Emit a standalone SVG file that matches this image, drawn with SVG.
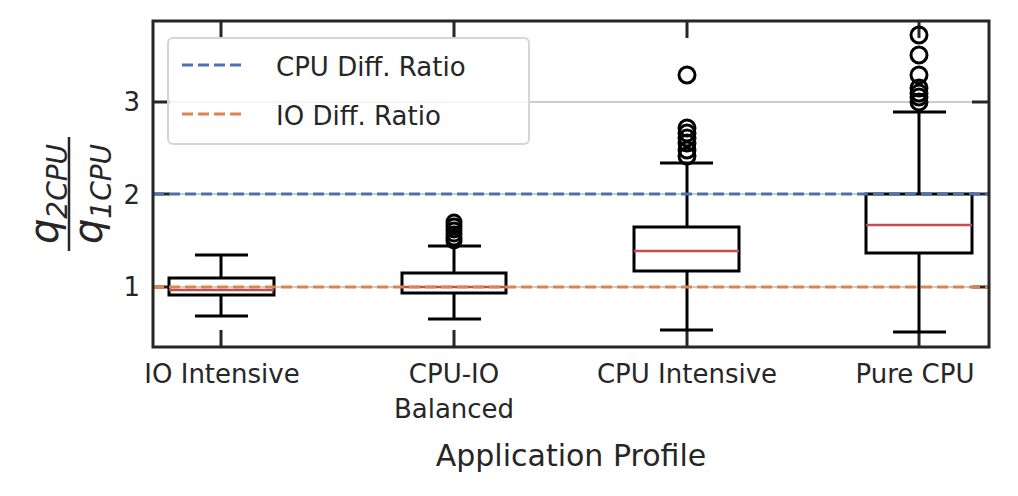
<svg xmlns="http://www.w3.org/2000/svg" width="1018" height="496" viewBox="0 0 1018 496">
<style>
text{font-family:"DejaVu Sans",sans-serif;fill:#262626}
.g{stroke:#cccccc;stroke-width:2}
.b{fill:none;stroke:#000;stroke-width:3}
.m{stroke:#c44e52;stroke-width:2.5}
.o{fill:none;stroke:#000;stroke-width:3}
.t{stroke:#262626;stroke-width:3}
</style>
<rect width="1018" height="496" fill="#fff"/>
<g id="grid">
<line class="g" x1="153" y1="102" x2="989" y2="102"/>
<line class="g" x1="153" y1="194" x2="989" y2="194"/>
<line class="g" x1="153" y1="287" x2="989" y2="287"/>
</g>
<g id="ticks">
<path class="t" d="M221 21V38M454 21V38M687 21V38M919 21V38M221 330V347M454 330V347M687 330V347M919 330V347M153 102H170M153 194H170M153 287H170M972 102H989M972 194H989M972 287H989"/>
</g>
<g id="box1">
<path class="b" d="M221 255V278M221 295V316M195 255H248M195 316H248"/>
<rect class="b" x="169" y="278" width="105" height="17"/>
<line class="m" x1="169" y1="290" x2="274" y2="290"/>
</g>
<g id="box2">
<path class="b" d="M454 246V273M454 293V319M428 246H481M428 319H481"/>
<rect class="b" x="402" y="273" width="104" height="20"/>
<line class="m" x1="402" y1="287" x2="506" y2="287"/>
<g class="o"><circle cx="454" cy="222" r="7"/><circle cx="454" cy="226" r="7"/><circle cx="454" cy="230" r="7"/><circle cx="454" cy="234" r="7"/><circle cx="454" cy="238" r="7"/><circle cx="454" cy="241" r="7"/></g>
</g>
<g id="box3">
<path class="b" d="M687 163V227M687 271V330M660 163H713M660 330H713"/>
<rect class="b" x="634" y="227" width="105" height="44"/>
<line class="m" x1="634" y1="251" x2="739" y2="251"/>
<g class="o"><circle cx="687" cy="75" r="8"/><circle cx="687" cy="128" r="8"/><circle cx="687" cy="133" r="8"/><circle cx="687" cy="138" r="8"/><circle cx="687" cy="143" r="8"/><circle cx="687" cy="150" r="8"/><circle cx="687" cy="156" r="8"/></g>
</g>
<g id="box4">
<path class="b" d="M919 112V194M919 253V332M893 112H946M893 332H946"/>
<rect class="b" x="866" y="194" width="106" height="59"/>
<line class="m" x1="866" y1="225" x2="972" y2="225"/>
<g class="o"><circle cx="919" cy="35" r="8"/><circle cx="919" cy="55" r="8"/><circle cx="919" cy="75" r="8"/><circle cx="919" cy="88" r="8"/><circle cx="919" cy="93" r="8"/><circle cx="919" cy="97" r="8"/><circle cx="919" cy="102" r="8"/></g>
</g>
<g id="refs">
<line x1="153" y1="194" x2="989" y2="194" stroke="#4c72b0" stroke-width="3" stroke-dasharray="11,5"/>
<line x1="153" y1="287" x2="989" y2="287" stroke="#dd8452" stroke-width="3" stroke-dasharray="11,5"/>
</g>
<rect id="frame" x="153" y="21" width="836" height="326" fill="none" stroke="#262626" stroke-width="3"/>
<g id="legend">
<rect x="168" y="38" width="361" height="106" rx="5" fill="#fff" fill-opacity="0.8" stroke="#d5d5d5" stroke-width="2"/>
<line x1="182" y1="65" x2="246" y2="65" stroke="#4c72b0" stroke-width="3" stroke-dasharray="11,5"/>
<line x1="182" y1="114" x2="246" y2="114" stroke="#dd8452" stroke-width="3" stroke-dasharray="11,5"/>
<text x="276" y="76" font-size="26">CPU Diff. Ratio</text>
<text x="276" y="125" font-size="26">IO Diff. Ratio</text>
</g>
<g id="ylabels" font-size="26" text-anchor="end">
<text x="140" y="111">3</text>
<text x="140" y="204">2</text>
<text x="140" y="296">1</text>
</g>
<g id="xlabels" font-size="26" text-anchor="middle">
<text x="222" y="383">IO Intensive</text>
<text x="454" y="383">CPU-IO</text>
<text x="454" y="418">Balanced</text>
<text x="687" y="383">CPU Intensive</text>
<text x="915" y="383">Pure CPU</text>
<text x="571" y="466" font-size="30">Application Profile</text>
</g>
<g id="ylabel" transform="translate(66 194) rotate(-90)">
<text x="0" y="-8" font-size="40" font-style="italic" text-anchor="middle">q<tspan font-size="28" dy="9">2CPU</tspan></text>
<line x1="-57" y1="3" x2="57" y2="3" stroke="#262626" stroke-width="2.5"/>
<text x="0" y="36" font-size="40" font-style="italic" text-anchor="middle">q<tspan font-size="28" dy="9">1CPU</tspan></text>
</g>
</svg>
